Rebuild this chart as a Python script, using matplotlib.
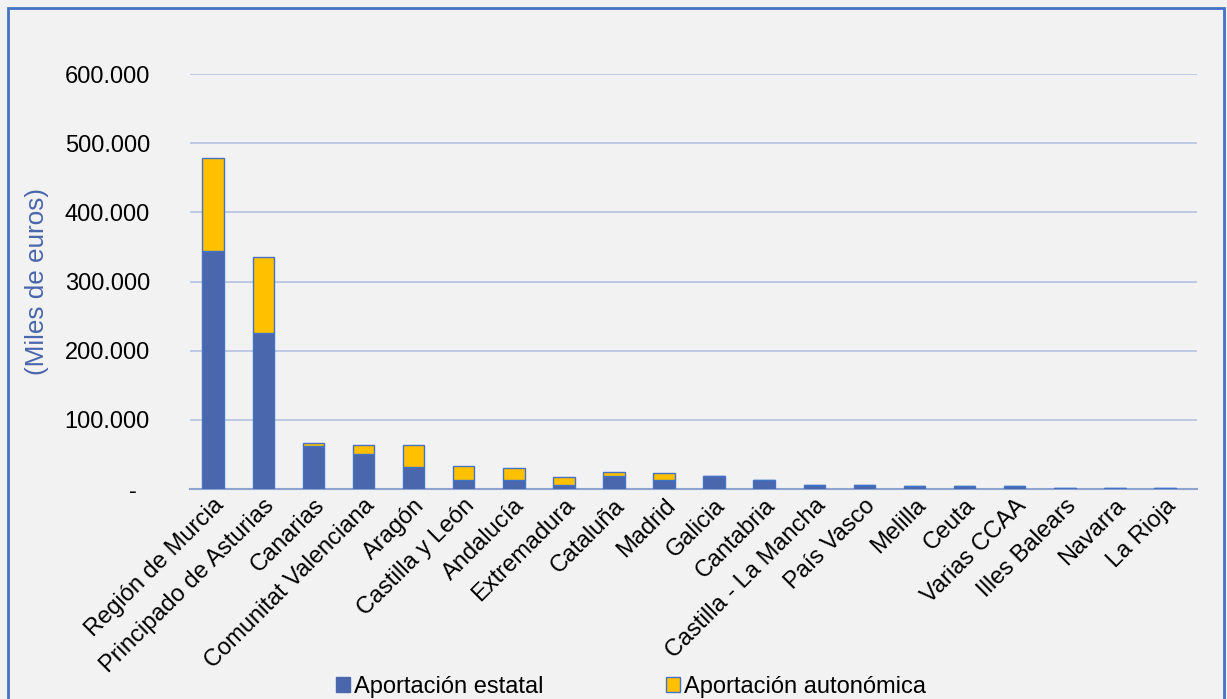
import matplotlib.pyplot as plt
from matplotlib.patches import Patch
from matplotlib.ticker import FuncFormatter

plt.rcParams["font.family"] = ["Liberation Sans", "DejaVu Sans"]

regiones = ["Región de Murcia", "Principado de Asturias", "Canarias", "Comunitat Valenciana",
            "Aragón", "Castilla y León", "Andalucía", "Extremadura", "Cataluña", "Madrid",
            "Galicia", "Cantabria", "Castilla - La Mancha", "País Vasco", "Melilla", "Ceuta",
            "Varias CCAA", "Illes Balears", "Navarra", "La Rioja"]
estatal = [344000, 225500, 62000, 50000, 32000, 13000, 13000, 6000, 19000, 13000,
           19000, 13000, 6000, 5500, 5000, 5000, 4000, 2000, 1500, 1500]
autonomica = [134500, 110000, 4500, 13000, 31000, 20000, 17000, 12000, 5000, 9500,
              0, 0, 0, 0, 0, 0, 0, 0, 0, 0]

AZUL = "#4A66AC"
BORDE = "#4472C4"
AMARILLO = "#FFC000"
FONDO = "#F2F2F2"

fig = plt.figure(figsize=(12.27, 6.99), dpi=100, facecolor=FONDO)
ax = fig.add_axes([0.155, 0.3004, 0.8206, 0.5936])
ax.set_facecolor(FONDO)

x = range(len(regiones))
ax.bar(x, estatal, width=0.43, color=AZUL, edgecolor=BORDE, linewidth=1, zorder=3)
ax.bar(x, autonomica, width=0.43, bottom=estatal, color=AMARILLO, edgecolor=BORDE,
       linewidth=1, zorder=3)

ax.set_ylim(0, 600000)
ax.set_xlim(-0.46, len(regiones) - 0.36)
ax.set_yticks(range(0, 600001, 100000))
ax.yaxis.set_major_formatter(FuncFormatter(
    lambda v, p: "-  " if v == 0 else f"{int(v):,}".replace(",", ".")))
ax.grid(axis="y", color="#B4C3E0", linewidth=1.2, zorder=0)
for s in ["top", "right", "left"]:
    ax.spines[s].set_visible(False)
ax.spines["bottom"].set_color("#8FA2D0")
ax.spines["bottom"].set_linewidth(1.5)
ax.tick_params(axis="both", length=0, labelsize=17)
ax.tick_params(axis="y", pad=29)
ax.tick_params(axis="x", pad=4)
ax.set_xticks(list(x))
ax.set_xticklabels(regiones, rotation=45, ha="right", rotation_mode="anchor", fontsize=17)

fig.text(0.030, 0.597, "(Miles de euros)", rotation=90, color=AZUL, fontsize=18.8,
         ha="center", va="center")

handles = [Patch(facecolor=AZUL, edgecolor=AZUL, label="Aportación estatal"),
           Patch(facecolor=AMARILLO, edgecolor=BORDE, label="Aportación autonómica")]
fig.legend(handles=handles, loc="lower center", bbox_to_anchor=(0.514, -0.029), ncol=2,
           frameon=False, fontsize=17, handlelength=0.6, handleheight=0.6,
           handletextpad=0.15, columnspacing=5.2)

border = plt.Rectangle((0.0065, -0.01), 0.991, 0.9985, transform=fig.transFigure,
                       fill=False, edgecolor=BORDE, linewidth=2)
fig.patches.append(border)

plt.savefig("out.png", dpi=100, facecolor=FONDO)
